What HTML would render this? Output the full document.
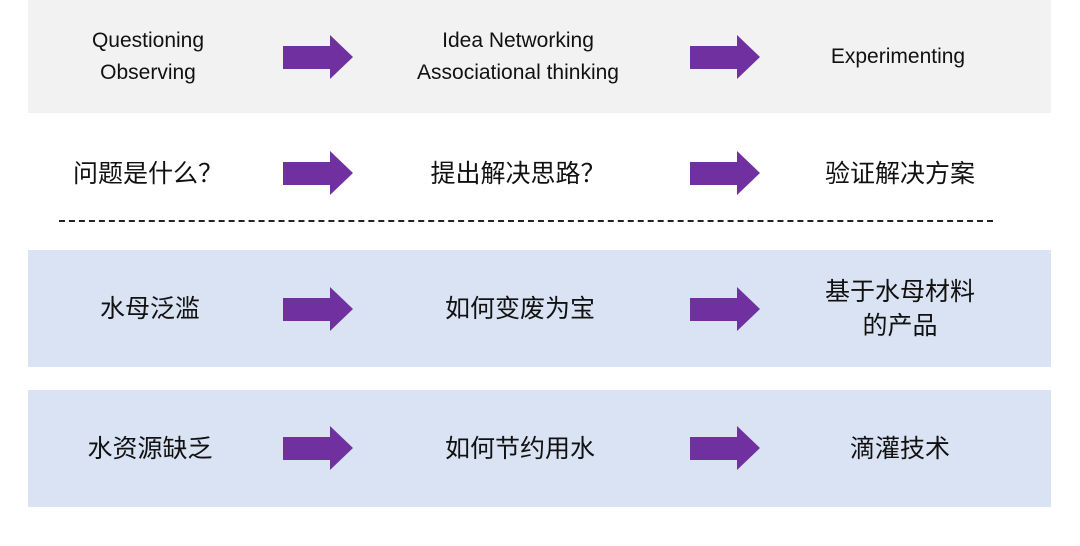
<html><head><style>
body{margin:0;width:1080px;height:546px;background:#fff;position:relative;overflow:hidden;font-family:"Liberation Sans","Noto Sans CJK SC",sans-serif;color:#111}
.band{position:absolute;left:28px;width:1023px}
.t{position:absolute;text-align:center;width:300px;transform:translate(-50%,-50%);line-height:1.4}
.en{font-size:21px;line-height:32px}
.cn{font-size:25px;line-height:34px}
svg.a{position:absolute;width:70px;height:45px}
</style></head><body>
<div class="band" style="top:0;height:113px;background:#f2f2f2"></div>
<div class="band" style="top:250px;height:117px;background:#dae3f3"></div>
<div class="band" style="top:390px;height:117px;background:#dae3f3"></div>
<div style="position:absolute;left:59px;top:220px;width:934px;border-top:2px dashed #222"></div>

<div class="t en" style="left:148px;top:57px">Questioning<br>Observing</div>
<div class="t en" style="left:518px;top:57px">Idea Networking<br>Associational thinking</div>
<div class="t en" style="left:898px;top:57px">Experimenting</div>

<div class="t cn" style="left:148px;top:174px">问题是什么？</div>
<div class="t cn" style="left:518px;top:174px">提出解决思路？</div>
<div class="t cn" style="left:900px;top:174px">验证解决方案</div>

<div class="t cn" style="left:150px;top:309px">水母泛滥</div>
<div class="t cn" style="left:520px;top:309px">如何变废为宝</div>
<div class="t cn" style="left:900px;top:309px">基于水母材料<br>的产品</div>

<div class="t cn" style="left:150px;top:449px">水资源缺乏</div>
<div class="t cn" style="left:520px;top:449px">如何节约用水</div>
<div class="t cn" style="left:900px;top:449px">滴灌技术</div>

<svg class="a" style="left:283px;top:35px" viewBox="0 0 70 45"><polygon points="0,11 47,11 47,0 70,22 47,44 47,34 0,34" fill="#7030a0"/></svg>
<svg class="a" style="left:690px;top:35px" viewBox="0 0 70 45"><polygon points="0,11 47,11 47,0 70,22 47,44 47,34 0,34" fill="#7030a0"/></svg>
<svg class="a" style="left:283px;top:151px" viewBox="0 0 70 45"><polygon points="0,11 47,11 47,0 70,22 47,44 47,34 0,34" fill="#7030a0"/></svg>
<svg class="a" style="left:690px;top:151px" viewBox="0 0 70 45"><polygon points="0,11 47,11 47,0 70,22 47,44 47,34 0,34" fill="#7030a0"/></svg>
<svg class="a" style="left:283px;top:287px" viewBox="0 0 70 45"><polygon points="0,11 47,11 47,0 70,22 47,44 47,34 0,34" fill="#7030a0"/></svg>
<svg class="a" style="left:690px;top:287px" viewBox="0 0 70 45"><polygon points="0,11 47,11 47,0 70,22 47,44 47,34 0,34" fill="#7030a0"/></svg>
<svg class="a" style="left:283px;top:426px" viewBox="0 0 70 45"><polygon points="0,11 47,11 47,0 70,22 47,44 47,34 0,34" fill="#7030a0"/></svg>
<svg class="a" style="left:690px;top:426px" viewBox="0 0 70 45"><polygon points="0,11 47,11 47,0 70,22 47,44 47,34 0,34" fill="#7030a0"/></svg>
</body></html>
